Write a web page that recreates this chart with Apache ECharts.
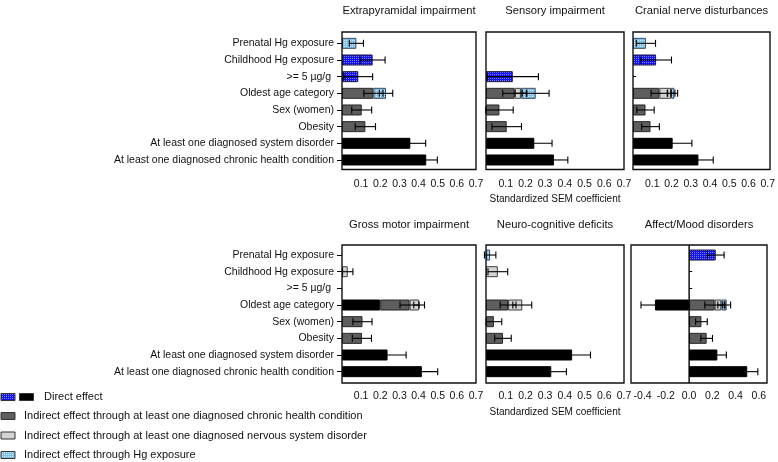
<!DOCTYPE html>
<html>
<head>
<meta charset="utf-8">
<script src="https://cdn.jsdelivr.net/npm/echarts@6/dist/echarts.min.js"></script>
<style>
html,body{margin:0;padding:0;background:#fff;}
#chart{width:778px;height:462px;}
</style>
</head>
<body>
<div id="chart"></div>
<script>
const N = null;
const categories = ['Prenatal Hg exposure', 'Childhood Hg exposure', '>= 5 µg/g ', 'Oldest age category', 'Sex (women)', 'Obesity', 'At least one diagnosed system disorder', 'At least one diagnosed chronic health condition'];
const hgRows = [true, true, true, false, false, false, false, false];
const panelTitles = ['Extrapyramidal impairment', 'Sensory impairment', 'Cranial nerve disturbances', 'Gross motor impairment', 'Neuro-cognitive deficits', 'Affect/Mood disorders'];
const legendNames = ['Direct effect', 'Indirect effect through at least one diagnosed chronic health condition', 'Indirect effect through at least one diagnosed nervous system disorder', 'Indirect effect through Hg exposure'];
const axisTitle = 'Standardized SEM coefficient';
const affectTicks = [-0.4, -0.2, 0, 0.2, 0.4, 0.6];

// Extrapyramidal impairment
const extraDirect     = [N, 0.160, 0.085, N, N, N, 0.357, 0.440];
const extraDirectErr  = [N, 0.065, 0.075, N, N, N, 0.080, 0.058];
const extraChronic    = [N, N, N, 0.164, 0.103, 0.122, N, N];
const extraChronicErr = [N, N, N, 0.050, 0.052, 0.053, N, N];
const extraNervous    = [N, N, N, N, N, N, N, N];
const extraNervousErr = [N, N, N, N, N, N, N, N];
const extraHg         = [0.075, N, N, 0.066, N, N, N, N];
const extraHgErr      = [0.037, N, N, 0.035, N, N, N, N];

// Sensory impairment
const sensDirect      = [N, N, 0.136, N, N, N, 0.245, 0.345];
const sensDirectErr   = [N, N, 0.130, N, N, N, 0.090, 0.070];
const sensChronic     = [N, N, N, 0.145, 0.068, 0.105, N, N];
const sensChronicErr  = [N, N, N, 0.060, 0.070, 0.075, N, N];
const sensNervous     = [N, N, N, 0.032, N, N, N, N];
const sensNervousErr  = [N, N, N, 0.030, N, N, N, N];
const sensHg          = [N, N, N, 0.075, N, N, N, N];
const sensHgErr       = [N, N, N, 0.068, N, N, N, N];

// Cranial nerve disturbances
const cranDirect      = [N, 0.120, N, N, N, N, 0.206, 0.340];
const cranDirectErr   = [N, 0.080, N, N, N, N, 0.100, 0.077];
const cranChronic     = [N, N, N, 0.137, 0.065, 0.091, N, N];
const cranChronicErr  = [N, N, N, 0.043, 0.045, 0.046, N, N];
const cranNervous     = [N, N, N, 0.061, N, N, N, N];
const cranNervousErr  = [N, N, N, 0.020, N, N, N, N];
const cranHg          = [0.067, N, N, 0.017, N, N, N, N];
const cranHgErr       = [0.050, N, N, 0.017, N, N, N, N];

// Gross motor impairment
const grossDirect     = [N, N, N, 0.200, N, N, 0.238, 0.417];
const grossDirectErr  = [N, N, N, N, N, N, 0.097, 0.083];
const grossChronic    = [N, N, N, 0.153, 0.107, 0.104, N, N];
const grossChronicErr = [N, N, N, 0.050, 0.050, 0.050, N, N];
const grossNervous    = [N, 0.030, N, 0.050, N, N, N, N];
const grossNervousErr = [N, 0.027, N, 0.028, N, N, N, N];
const grossHg         = [N, N, N, N, N, N, N, N];
const grossHgErr      = [N, N, N, N, N, N, N, N];

// Neuro-cognitive deficits
const neuroDirect     = [N, N, N, N, N, N, 0.437, 0.331];
const neuroDirectErr  = [N, N, N, N, N, N, 0.093, 0.077];
const neuroChronic    = [N, N, N, 0.112, 0.040, 0.086, N, N];
const neuroChronicErr = [N, N, N, 0.040, 0.040, 0.042, N, N];
const neuroNervous    = [N, 0.060, N, 0.072, N, N, N, N];
const neuroNervousErr = [N, 0.050, N, 0.048, N, N, N, N];
const neuroHg         = [0.021, N, N, N, N, N, N, N];
const neuroHgErr      = [0.029, N, N, N, N, N, N, N];

// Affect/Mood disorders
const moodDirect      = [0.229, N, N, -0.294, N, N, 0.243, 0.500];
const moodDirectErr   = [0.072, N, N, 0.120, N, N, 0.077, 0.091];
const moodChronic     = [N, N, N, 0.220, 0.106, 0.151, N, N];
const moodChronicErr  = [N, N, N, 0.085, 0.050, 0.050, N, N];
const moodNervous     = [N, N, N, 0.057, N, N, N, N];
const moodNervousErr  = [N, N, N, 0.030, N, N, N, N];
const moodHg          = [N, N, N, 0.046, N, N, N, N];
const moodHgErr       = [N, N, N, 0.034, N, N, N, N];

const panelData = [
  {vals: [extraDirect, extraChronic, extraNervous, extraHg], errs: [extraDirectErr, extraChronicErr, extraNervousErr, extraHgErr]},
  {vals: [sensDirect, sensChronic, sensNervous, sensHg], errs: [sensDirectErr, sensChronicErr, sensNervousErr, sensHgErr]},
  {vals: [cranDirect, cranChronic, cranNervous, cranHg], errs: [cranDirectErr, cranChronicErr, cranNervousErr, cranHgErr]},
  {vals: [grossDirect, grossChronic, grossNervous, grossHg], errs: [grossDirectErr, grossChronicErr, grossNervousErr, grossHgErr]},
  {vals: [neuroDirect, neuroChronic, neuroNervous, neuroHg], errs: [neuroDirectErr, neuroChronicErr, neuroNervousErr, neuroHgErr]},
  {vals: [moodDirect, moodChronic, moodNervous, moodHg], errs: [moodDirectErr, moodChronicErr, moodNervousErr, moodHgErr]}
];

// ---------- styles / layout ----------
const FONT = "'Liberation Sans', Arial, Helvetica, sans-serif";
const TXT = '#111';
function makePattern(base, dot) {
  const c = document.createElement('canvas');
  c.width = 2; c.height = 2;
  const ctx = c.getContext('2d');
  ctx.fillStyle = base; ctx.fillRect(0, 0, 2, 2);
  ctx.fillStyle = dot; ctx.fillRect(0, 0, 1, 1);
  return c;
}
const bluePat = {image: makePattern('#1414ec', '#7a7aff'), repeat: 'repeat'};
const lightBluePat = {image: makePattern('#80c0eb', '#cfe8fa'), repeat: 'repeat'};
const DARK = '#5e5e5e', LIGHT = '#d3d3d3';

const layers = [
  {fill: r => hgRows[r] ? bluePat : '#000', border: r => hgRows[r] ? '#1a1a40' : '#000'},
  {fill: () => DARK, border: () => '#262626'},
  {fill: () => LIGHT, border: () => '#404040'},
  {fill: () => lightBluePat, border: () => '#3a4a5a'}
];

// grid (data area) and frame for each panel
const gridDefs = [
  {left: 342, top: 35, width: 134, height: 133.3, box: [342, 32, 476, 169.5]},
  {left: 486, top: 35, width: 138, height: 133.3, box: [486, 32, 624, 169.5]},
  {left: 633, top: 35, width: 137, height: 133.3, box: [633, 32, 770, 169.5]},
  {left: 342, top: 246.7, width: 134, height: 133.3, box: [342, 245, 476, 383]},
  {left: 486, top: 246.7, width: 138, height: 133.3, box: [486, 245, 624, 383]},
  {left: 631, top: 246.7, width: 136, height: 133.3, box: [631, 245, 767, 383]}
];

const grids = [], xAxes = [], yAxes = [], series = [], graphics = [];

gridDefs.forEach((g, i) => {
  grids.push({left: g.left, top: g.top, width: g.width, height: g.height, containLabel: false});
  const isMood = i === 5;
  const x = {
    type: 'value', gridIndex: i,
    min: isMood ? -0.5 : 0, max: isMood ? 0.67 : 0.7,
    axisLine: {show: false}, axisTick: {show: false}, splitLine: {show: false},
    axisLabel: {
      color: TXT, fontSize: 10.5, fontFamily: FONT, margin: i < 3 ? 10 : 10.5,
      formatter: v => (Math.abs(v) < 1e-9 && !isMood) ? '' : (Math.abs(v) < 1e-9 ? '0.0' : v.toFixed(1))
    }
  };
  if (isMood) {
    x.axisLabel.customValues = affectTicks;
  } else {
    x.interval = 0.1;
  }
  xAxes.push(x);
  const showLab = (i === 0 || i === 3);
  const inwardTicks = (i === 2 || i === 5);
  yAxes.push({
    type: 'category', gridIndex: i, data: categories, inverse: true,
    axisLine: {show: false},
    axisTick: {show: showLab || inwardTicks, alignWithLabel: true, inside: inwardTicks, length: inwardTicks ? 3 : 5, lineStyle: {color: '#000', width: 1}},
    axisLabel: {show: showLab, color: TXT, fontSize: 10.5, fontFamily: FONT, margin: 8},
    splitLine: {show: false}
  });

  const pd = panelData[i];
  pd.vals.forEach((arr, li) => {
    series.push({
      type: 'bar', name: legendNames[li], xAxisIndex: i, yAxisIndex: i, stack: 'p' + i,
      barWidth: 11, animation: false, silent: true,
      data: arr.map((v, r) => v == null ? null : {value: v, itemStyle: {color: layers[li].fill(r), borderColor: layers[li].border(r), borderWidth: 1}})
    });
  });
  // error bars at the end of each stacked segment
  const errData = [];
  categories.forEach((c, r) => {
    let pos = 0, neg = 0;
    pd.vals.forEach((arr, li) => {
      const v = arr[r];
      if (v == null) return;
      let end;
      if (v >= 0) { pos += v; end = pos; } else { neg += v; end = neg; }
      const e = pd.errs[li][r];
      if (e != null) errData.push([end, c, e]);
    });
  });
  series.push({
    type: 'custom', xAxisIndex: i, yAxisIndex: i, animation: false, silent: true, z: 10,
    encode: {x: 0, y: 1},
    data: errData,
    renderItem: (params, api) => {
      const end = api.value(0), row = api.value(1), err = api.value(2);
      const p1 = api.coord([end - err, row]);
      const p2 = api.coord([end + err, row]);
      const h = 3.5;
      const st = {stroke: '#000', lineWidth: 1.1, fill: null};
      return {type: 'group', children: [
        {type: 'line', shape: {x1: p1[0], y1: p1[1], x2: p2[0], y2: p2[1]}, style: st},
        {type: 'line', shape: {x1: p1[0], y1: p1[1] - h, x2: p1[0], y2: p1[1] + h}, style: st},
        {type: 'line', shape: {x1: p2[0], y1: p2[1] - h, x2: p2[0], y2: p2[1] + h}, style: st}
      ]};
    }
  });

  const b = g.box;
  graphics.push({type: 'rect', shape: {x: b[0], y: b[1], width: b[2] - b[0], height: b[3] - b[1]},
    style: {fill: null, stroke: '#111', lineWidth: 1.4}, z: 50, silent: true});
  graphics.push({type: 'text', x: (b[0] + b[2]) / 2, y: i < 3 ? 11 : 225,
    style: {text: panelTitles[i], fill: TXT, font: '11.2px ' + FONT, textAlign: 'center', textVerticalAlign: 'middle'}, silent: true});
});

// x-axis titles
graphics.push({type: 'text', x: 555, y: 199, style: {text: axisTitle, fill: TXT, font: '10px ' + FONT, textAlign: 'center', textVerticalAlign: 'middle'}});
graphics.push({type: 'text', x: 555, y: 412, style: {text: axisTitle, fill: TXT, font: '10px ' + FONT, textAlign: 'center', textVerticalAlign: 'middle'}});

// legend
const legendRows = [
  {y: 397, swatches: [[bluePat, 1], ['#000', 19.5]], tx: 44, text: legendNames[0]},
  {y: 416, swatches: [[DARK, 1]], tx: 24, text: legendNames[1]},
  {y: 435.5, swatches: [[LIGHT, 1]], tx: 24, text: legendNames[2]},
  {y: 455, swatches: [[lightBluePat, 1]], tx: 24, text: legendNames[3]}
];
legendRows.forEach(row => {
  row.swatches.forEach(s => {
    graphics.push({type: 'rect', shape: {x: s[1], y: row.y - 3.5, width: 14, height: 7},
      style: {fill: s[0], stroke: '#333', lineWidth: 1}, silent: true});
  });
  graphics.push({type: 'text', x: row.tx, y: row.y,
    style: {text: row.text, fill: TXT, font: '11px ' + FONT, textAlign: 'left', textVerticalAlign: 'middle'}, silent: true});
});

const chart = echarts.init(document.getElementById('chart'), null, {renderer: 'canvas'});
chart.setOption({
  animation: false,
  backgroundColor: '#fff',
  textStyle: {fontFamily: FONT},
  grid: grids, xAxis: xAxes, yAxis: yAxes, series: series,
  graphic: graphics
});
// zero reference line in the Affect/Mood panel, positioned through the axis scale
const zx = chart.convertToPixel({xAxisIndex: 5}, 0);
const mb = gridDefs[5].box;
graphics.push({type: 'line', shape: {x1: zx, y1: mb[1], x2: zx, y2: mb[3]}, style: {stroke: '#000', lineWidth: 1.4}, z: 40, silent: true});
chart.setOption({graphic: graphics});
</script>
</body>
</html>
